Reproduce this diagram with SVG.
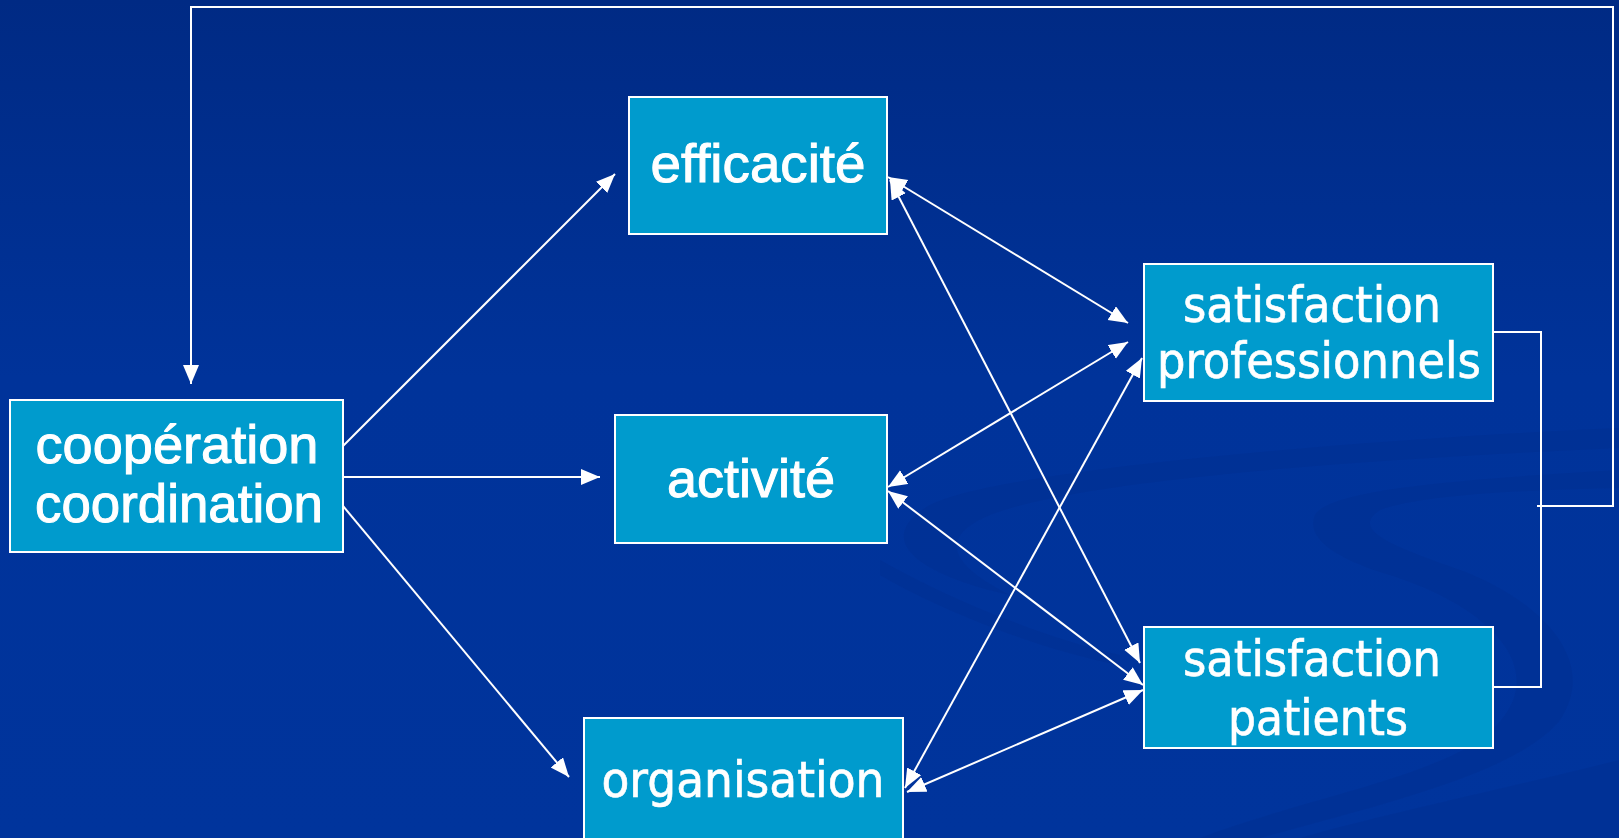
<svg xmlns="http://www.w3.org/2000/svg" width="1619" height="838" viewBox="0 0 1619 838">
<defs>
<linearGradient id="bg" x1="0" y1="0" x2="0" y2="1">
<stop offset="0" stop-color="#002a84"/>
<stop offset="0.45" stop-color="#00339a"/>
<stop offset="1" stop-color="#00349c"/>
</linearGradient>
<marker id="ah" markerUnits="userSpaceOnUse" markerWidth="22" markerHeight="18" refX="19" refY="8" orient="auto-start-reverse" viewBox="0 0 22 18">
<path d="M0,0 L19,8 L0,16 z" fill="#ffffff"/>
</marker>
<style>
.box{fill:#009bcd;stroke:#ffffff;stroke-width:2}
.t1{font-family:"Liberation Sans",Arial,sans-serif;font-size:54px;fill:#ffffff;stroke:#ffffff;stroke-width:1;text-anchor:middle}
.t2{font-family:"DejaVu Sans Condensed","DejaVu Sans",sans-serif;font-stretch:condensed;font-size:50px;fill:#ffffff;stroke:#ffffff;stroke-width:0.6;text-anchor:middle}
.ln{fill:none;stroke:#ffffff;stroke-width:2}
.sw{fill:#002d8c;opacity:0.35}
</style>
</defs>
<rect x="0" y="0" width="1619" height="838" fill="url(#bg)"/>
<g id="background-swooshes">
<path class="sw" d="M1619,428 C1350,440 1000,470 930,505 C870,540 920,575 1010,595 C960,570 930,540 990,515 C1080,480 1350,460 1619,448 Z"/>
<path class="sw" d="M1619,470 C1450,480 1330,490 1315,515 C1305,540 1340,560 1390,575 C1500,610 1560,680 1480,740 C1420,780 1300,800 1200,838 L1260,838 C1400,800 1520,770 1560,720 C1600,660 1540,600 1460,570 C1390,545 1350,530 1380,510 C1420,495 1520,490 1619,488 Z"/>
<path class="sw" d="M1619,760 C1500,790 1380,815 1300,838 L1619,838 Z"/>
<path class="sw" d="M880,560 C950,600 1050,640 1120,655 L1120,665 C1040,650 940,610 880,575 Z"/>
</g>
<g id="connectors">
<line class="ln" x1="343" y1="446" x2="615" y2="174" marker-end="url(#ah)"/>
<line class="ln" x1="343" y1="477" x2="600" y2="477" marker-end="url(#ah)"/>
<line class="ln" x1="343" y1="506" x2="569" y2="777" marker-end="url(#ah)"/>
<polyline class="ln" points="1537,506 1613,506 1613,7 191,7 191,384" marker-end="url(#ah)"/>
<polyline class="ln" points="1493,332 1541,332 1541,687 1493,687"/>
<line class="ln" x1="888" y1="177" x2="1128" y2="323" marker-start="url(#ah)" marker-end="url(#ah)"/>
<line class="ln" x1="890" y1="180" x2="1140" y2="663" marker-start="url(#ah)" marker-end="url(#ah)"/>
<line class="ln" x1="888" y1="487" x2="1128" y2="342" marker-start="url(#ah)" marker-end="url(#ah)"/>
<line class="ln" x1="888" y1="491" x2="1143" y2="685" marker-start="url(#ah)" marker-end="url(#ah)"/>
<line class="ln" x1="905" y1="788" x2="1142" y2="358" marker-start="url(#ah)" marker-end="url(#ah)"/>
<line class="ln" x1="907" y1="792" x2="1143" y2="690" marker-start="url(#ah)" marker-end="url(#ah)"/>
</g>
<g id="node-cooperation">
<rect class="box" x="10" y="400" width="333" height="152"/>
<text class="t1" x="177" y="463" textLength="283" lengthAdjust="spacingAndGlyphs">coopération</text>
<text class="t1" x="179" y="522" textLength="288" lengthAdjust="spacingAndGlyphs">coordination</text>
</g>
<g id="node-efficacite">
<rect class="box" x="629" y="97" width="258" height="137"/>
<text class="t1" x="758" y="182" textLength="215" lengthAdjust="spacingAndGlyphs">efficacité</text>
</g>
<g id="node-activite">
<rect class="box" x="615" y="415" width="272" height="128"/>
<text class="t1" x="751" y="497" textLength="168" lengthAdjust="spacingAndGlyphs">activité</text>
</g>
<g id="node-organisation">
<rect class="box" x="584" y="718" width="319" height="140"/>
<text class="t2" x="743" y="797" textLength="283" lengthAdjust="spacingAndGlyphs">organisation</text>
</g>
<g id="node-satisfaction-professionnels">
<rect class="box" x="1144" y="264" width="349" height="137"/>
<text class="t2" x="1312" y="322" textLength="258" lengthAdjust="spacingAndGlyphs">satisfaction</text>
<text class="t2" x="1319" y="378" textLength="324" lengthAdjust="spacingAndGlyphs">professionnels</text>
</g>
<g id="node-satisfaction-patients">
<rect class="box" x="1144" y="627" width="349" height="121"/>
<text class="t2" x="1312" y="676" textLength="258" lengthAdjust="spacingAndGlyphs">satisfaction</text>
<text class="t2" x="1318" y="735" textLength="180" lengthAdjust="spacingAndGlyphs">patients</text>
</g>
</svg>
